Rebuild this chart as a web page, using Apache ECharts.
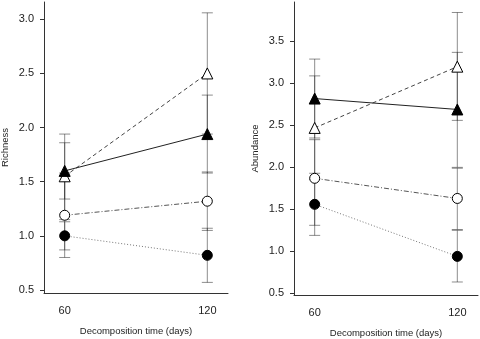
<!DOCTYPE html>
<html>
<head>
<meta charset="utf-8">
<script src="https://cdn.jsdelivr.net/npm/echarts@6/dist/echarts.min.js"></script>
<style>
html,body{margin:0;padding:0;background:#fff;}
#chart{width:480px;height:339px;}
</style>
</head>
<body>
<div id="chart"></div>
<script>
// ---- data ----
const days = [60, 120];
const richnessTicks = [0.5, 1.0, 1.5, 2.0, 2.5, 3.0];
const abundanceTicks = [0.5, 1.0, 1.5, 2.0, 2.5, 3.0, 3.5];

// Richness (left panel)
const richOpenTri = [1.55, 2.50];
const richOpenTriLow = [1.15, 1.94];
const richOpenTriHigh = [1.94, 3.06];
const richFilledTri = [1.60, 1.94];
const richFilledTriLow = [1.34, 1.58];
const richFilledTriHigh = [1.86, 2.30];
const richOpenCircle = [1.19, 1.32];
const richOpenCircleLow = [0.80, 1.05];
const richOpenCircleHigh = [1.58, 1.59];
const richFilledCircle = [1.00, 0.82];
const richFilledCircleLow = [0.87, 0.57];
const richFilledCircleHigh = [1.13, 1.07];

// Abundance (right panel)
const abuOpenTri = [2.47, 3.20];
const abuOpenTriLow = [1.86, 2.56];
const abuOpenTriHigh = [3.09, 3.845];
const abuFilledTri = [2.82, 2.69];
const abuFilledTriLow = [2.35, 2.00];
const abuFilledTriHigh = [3.29, 3.37];
const abuOpenCircle = [1.87, 1.63];
const abuOpenCircleLow = [1.31, 1.26];
const abuOpenCircleHigh = [2.33, 1.99];
const abuFilledCircle = [1.56, 0.94];
const abuFilledCircleLow = [1.19, 0.635];
const abuFilledCircleHigh = [1.93, 1.25];

// ---- chart ----
const pairs = (ys) => days.map((d, i) => [d, ys[i]]);
const bars = (lows, highs) => days.map((d, i) => [d, lows[i], highs[i]]);

const FONT = 'Liberation Sans, Arial, sans-serif';
const TXT = '#222';

function errSeries(idx, data) {
  return {
    type: 'custom', xAxisIndex: idx, yAxisIndex: idx, z: 1, silent: true,
    encode: { x: 0, y: [1, 2] },
    renderItem: function (params, api) {
      const x = api.value(0), lo = api.value(1), hi = api.value(2);
      const a = api.coord([x, lo]), b = api.coord([x, hi]);
      const w = 5.5;
      const st = { stroke: 'rgba(30,30,30,0.5)', lineWidth: 1, fill: null };
      return { type: 'group', children: [
        { type: 'line', shape: { x1: a[0], y1: a[1], x2: b[0], y2: b[1] }, style: st },
        { type: 'line', shape: { x1: a[0] - w, y1: a[1], x2: a[0] + w, y2: a[1] }, style: st },
        { type: 'line', shape: { x1: b[0] - w, y1: b[1], x2: b[0] + w, y2: b[1] }, style: st }
      ]};
    },
    data: data
  };
}

function lineSeries(idx, ys, symbol, filled, lineType, color, size) {
  return {
    type: 'line', xAxisIndex: idx, yAxisIndex: idx, z: 3, silent: true,
    data: pairs(ys), symbol: symbol, symbolSize: size, showSymbol: true,
    lineStyle: { color: color, width: 1, type: lineType },
    itemStyle: { color: filled ? '#000' : '#fff', borderColor: '#000', borderWidth: 1, opacity: 1 },
    animation: false
  };
}

function yAxis(idx, min, max, ticks, name) {
  return {
    type: 'value', gridIndex: idx, min: min, max: max,
    name: name, nameLocation: 'middle', nameGap: 34,
    nameTextStyle: { fontFamily: FONT, fontSize: 9.5, color: TXT },
    axisLine: { show: true, lineStyle: { color: '#333', width: 1 } },
    axisTick: { show: true, length: 4, customValues: ticks, lineStyle: { color: '#333' } },
    axisLabel: { customValues: ticks, formatter: v => v.toFixed(1), fontFamily: FONT, fontSize: 11, color: TXT, margin: 10 },
    splitLine: { show: false }
  };
}

function xAxis(idx) {
  return {
    type: 'value', gridIndex: idx, min: 51.3, max: 128.7,
    name: 'Decomposition time (days)', nameLocation: 'middle', nameGap: 33,
    nameTextStyle: { fontFamily: FONT, fontSize: 9.5, color: TXT },
    axisLine: { show: true, onZero: false, lineStyle: { color: '#333', width: 1 } },
    axisTick: { show: false },
    axisLabel: { customValues: days, fontFamily: FONT, fontSize: 11, color: TXT, margin: 12 },
    splitLine: { show: false }
  };
}

const chart = echarts.init(document.getElementById('chart'), null, { renderer: 'canvas' });
chart.setOption({
  animation: false,
  backgroundColor: '#fff',
  grid: [
    { left: 44, top: 2, width: 184, height: 291, outerBoundsMode: 'none' },
    { left: 294, top: 2, width: 184, height: 293, outerBoundsMode: 'none' }
  ],
  xAxis: [xAxis(0), xAxis(1)],
  yAxis: [
    yAxis(0, 0.472, 3.16, richnessTicks, 'Richness'),
    yAxis(1, 0.48, 3.97, abundanceTicks, 'Abundance')
  ],
  series: [
    errSeries(0, [
      ...bars(richOpenTriLow, richOpenTriHigh),
      ...bars(richFilledTriLow, richFilledTriHigh),
      ...bars(richOpenCircleLow, richOpenCircleHigh),
      ...bars(richFilledCircleLow, richFilledCircleHigh)
    ]),
    errSeries(1, [
      ...bars(abuOpenTriLow, abuOpenTriHigh),
      ...bars(abuFilledTriLow, abuFilledTriHigh),
      ...bars(abuOpenCircleLow, abuOpenCircleHigh),
      ...bars(abuFilledCircleLow, abuFilledCircleHigh)
    ]),
    lineSeries(0, richFilledCircle, 'circle', true, [1, 2], '#777', 10),
    lineSeries(0, richOpenCircle, 'circle', false, [5, 2, 1, 2], '#555', 10),
    lineSeries(0, richOpenTri, 'triangle', false, [4, 3], '#444', 11),
    lineSeries(0, richFilledTri, 'triangle', true, 'solid', '#222', 11),
    lineSeries(1, abuFilledCircle, 'circle', true, [1, 2], '#777', 10),
    lineSeries(1, abuOpenCircle, 'circle', false, [5, 2, 1, 2], '#555', 10),
    lineSeries(1, abuOpenTri, 'triangle', false, [4, 3], '#444', 11),
    lineSeries(1, abuFilledTri, 'triangle', true, 'solid', '#222', 11)
  ]
});
</script>
</body>
</html>
